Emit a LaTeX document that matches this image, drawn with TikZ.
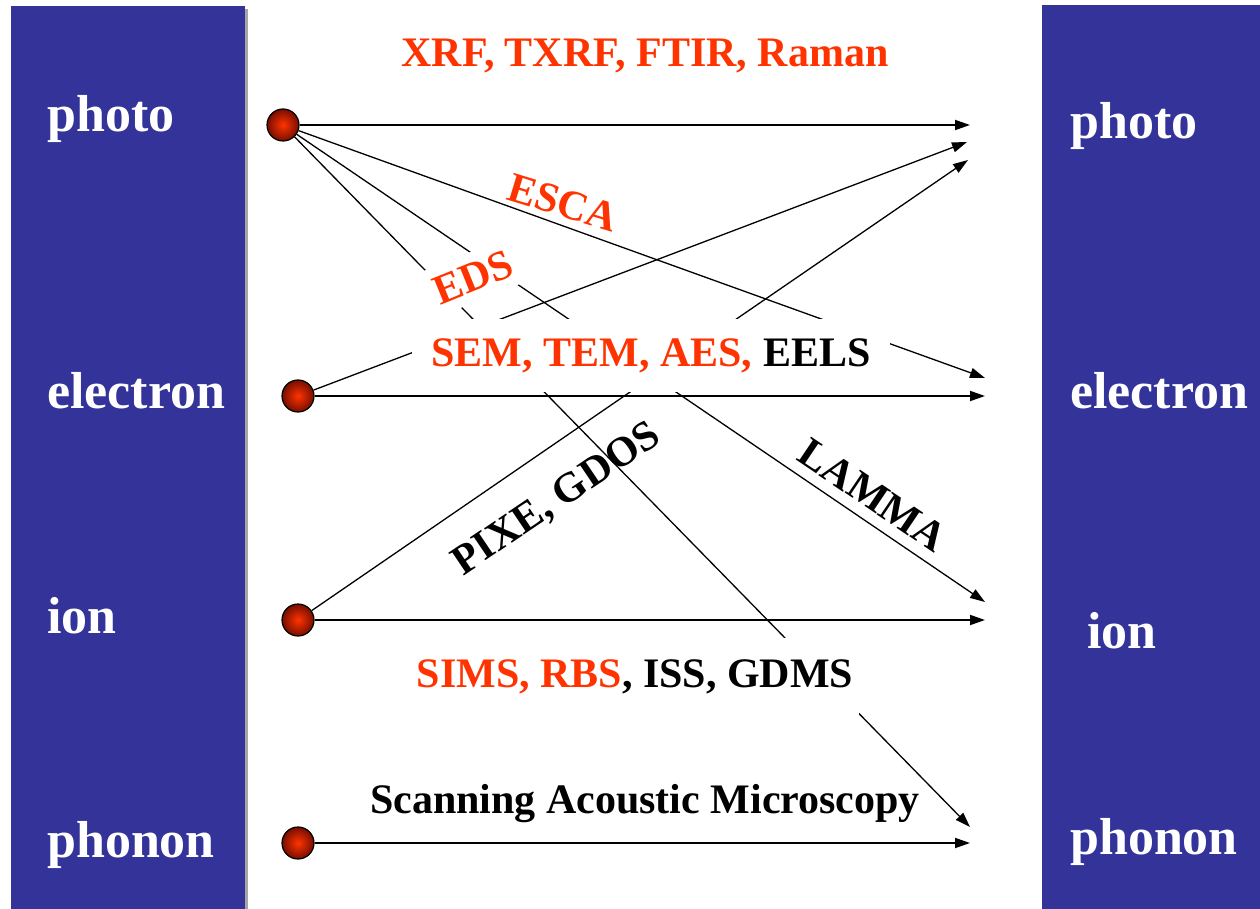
\documentclass[tikz,border=0pt]{standalone}
\usepackage{fontspec}
\setmainfont{Liberation Serif}
\usetikzlibrary{arrows.meta,shapes.geometric}
\definecolor{panelblue}{RGB}{51,51,153}
\definecolor{techred}{RGB}{255,51,0}
\definecolor{balldark}{RGB}{120,14,0}

\begin{document}
\begin{tikzpicture}[x=1pt,y=-1pt,
    side/.style={anchor=base west,text=white,inner sep=0,font=\fontsize{52}{60}\selectfont\bfseries},
    dot/.style={circle,draw,line width=1.2pt,minimum size=32pt,inner sep=0,inner color=techred,outer color=balldark},
    beam/.style={line width=1.8pt,-{Triangle[length=15pt,width=10pt]}},
    cross/.style={line width=1.3pt,-{Triangle[length=15pt,width=10pt]}},
    tech/.style={inner sep=0,font=\fontsize{42}{50}\selectfont\bfseries},
    cover/.style={fill=white}]
    \useasboundingbox (0,0) rectangle (1260,909);
    % side panels
    \fill[gray!70] (245,9) rectangle (248,909);
    \fill[panelblue] (11,6) rectangle (245,909);
    \fill[panelblue] (1042,5) rectangle (1260,909);
    \node[side] (inphoto) at (47,132) {photo};
    \node[side] (inelectron) at (47,408) {electron};
    \node[side] (inion) at (47,633) {ion};
    \node[side] (inphonon) at (47,857) {phonon};
    \node[side] (outphoto) at (1070,139) {photo};
    \node[side] (outelectron) at (1070,408) {electron};
    \node[side] (oution) at (1087,648) {ion};
    \node[side] (outphonon) at (1070,854) {phonon};

    % sources
    \node[dot] (cphoto) at (283,125) {};
    \node[dot] (celectron) at (298,396) {};
    \node[dot] (cion) at (298,620) {};
    \node[dot] (cphonon) at (298,843) {};

    % arrow ends
    \coordinate (pA) at (970,125);
    \coordinate (pB) at (967,142);
    \coordinate (pC) at (968,160);
    \coordinate (eA) at (985,378);
    \coordinate (eB) at (985,396);
    \coordinate (iA) at (985,602);
    \coordinate (iB) at (985,620);
    \coordinate (nA) at (970,827);
    \coordinate (nB) at (970,843);

    % beams
    \draw[beam] (cphoto) -- (pA);
    \draw[cross] (cphoto) -- (eA);
    \draw[cross] (cphoto) -- (iA);
    \draw[cross] (cphoto) -- (nA);
    \draw[beam] (celectron) -- (eB);
    \draw[cross] (celectron) -- (pB);
    \draw[beam] (cion) -- (iB);
    \draw[cross] (cion) -- (pC);
    \draw[beam] (cphonon) -- (nB);

    % method labels
    \node[tech,text=techred,anchor=base] (xrf) at (645,67) {XRF, TXRF, FTIR, Raman};
    \node[tech,text=techred,cover,inner sep=2pt,rotate=-17] (esca) at (563,203) {ESCA};
    \node[tech,text=techred,cover,inner sep=10pt,rotate=22] (eds) at (473,277) {EDS};
    \node[tech,cover,anchor=base,inner xsep=20pt,inner ysep=19pt] (sem) at (651,366)
        {\textcolor{techred}{SEM, TEM, AES,} EELS};
    \node[tech,rotate=34] (pixe) at (557,500) {PIXE, GDOS};
    \node[tech,rotate=-34] (lamma) at (873,495) {LAMMA};
    \node[tech,cover,anchor=base,inner xsep=6pt,inner ysep=21pt] (sims) at (635,687)
        {\textcolor{techred}{SIMS, RBS}, ISS, GDMS};
    \node[tech,anchor=base] (sam) at (645,813) {Scanning Acoustic Microscopy};
\end{tikzpicture}
\end{document}
